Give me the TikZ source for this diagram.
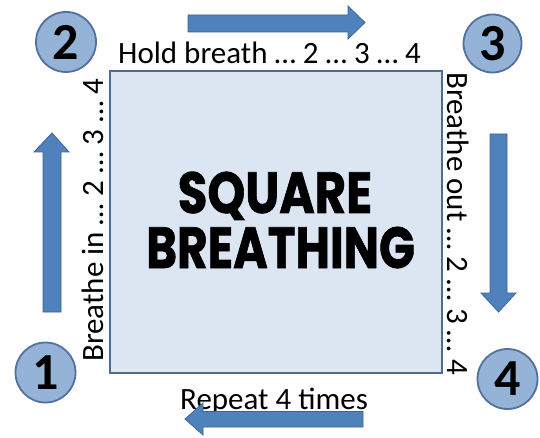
\documentclass[tikz,border=0pt]{standalone}
\usepackage{fontspec}
\setmainfont{Carlito}
\newfontfamily\titlefont{Poppins}[BoldFeatures={FakeBold=1.2}]
\definecolor{sqfill}{RGB}{220,230,242}
\definecolor{sqline}{RGB}{80,108,150}
\definecolor{cfill}{RGB}{149,179,215}
\definecolor{cline}{RGB}{82,112,160}
\definecolor{afill}{RGB}{79,129,189}
\definecolor{aline}{RGB}{60,100,155}
\tikzset{
  sq/.style={draw=sqline, fill=sqfill, line width=1.2pt},
  numcircle/.style={circle, draw=cline, fill=cfill, line width=1.8pt, minimum size=60pt, inner sep=0pt,
    font=\fontsize{52}{52}\selectfont\bfseries},
  blockarrow/.style={draw=aline, fill=afill, line width=0.8pt, line join=miter},
  lbl/.style={inner sep=0pt, font=\fontsize{31}{31}\selectfont},
  ttl/.style={inner sep=0pt, font=\titlefont\bfseries\fontsize{58}{58}\selectfont}
}
\begin{document}
\begin{tikzpicture}[x=1pt,y=-1pt]
\useasboundingbox (0,0) rectangle (540,438);
\fill[white] (0,0) rectangle (540,438);
% square
\draw[sq] (110,71) rectangle (442,373);
% title
\node[ttl, anchor=base] (t1) at (275,213) {\scalebox{0.83}[1]{SQUARE}};
\node[ttl, anchor=base] (t2) at (280.5,268) {\scalebox{0.81}[1]{BREATHING}};
% circles
\node[numcircle] (c1) at (45.5,372.5) {1};
\node[numcircle] (c2) at (66,42) {2};
\node[numcircle, minimum size=58pt] (c3) at (492.5,43.5) {3};
\node[numcircle] (c4) at (507.5,379) {4};
% labels
\node[lbl, anchor=base west] (top) at (118,63.3) {Hold breath … 2 … 3 … 4};
\node[lbl, anchor=base west] (bot) at (180,409) {Repeat 4 times};
\node[lbl, anchor=base west, rotate=90] (left) at (103,362) {Breathe in … 2 … 3 … 4};
\node[lbl, anchor=base west, rotate=-90] (right) at (447,72) {Breathe out … 2 … 3 … 4};
% block arrows
\draw[blockarrow] (188,15) -- (348,15) -- (348,6) -- (365,22.5) -- (348,39) -- (348,32) -- (188,32) -- cycle;
\draw[blockarrow] (363,411.5) -- (203,411.5) -- (203,403) -- (185,419) -- (203,435) -- (203,427) -- (363,427) -- cycle;
\draw[blockarrow] (43,312) -- (43,152) -- (34,152) -- (52,133) -- (69,152) -- (61,152) -- (61,312) -- cycle;
\draw[blockarrow] (490,134) -- (490,293) -- (481,293) -- (498.5,312) -- (516,293) -- (507,293) -- (507,134) -- cycle;
\end{tikzpicture}
\end{document}
